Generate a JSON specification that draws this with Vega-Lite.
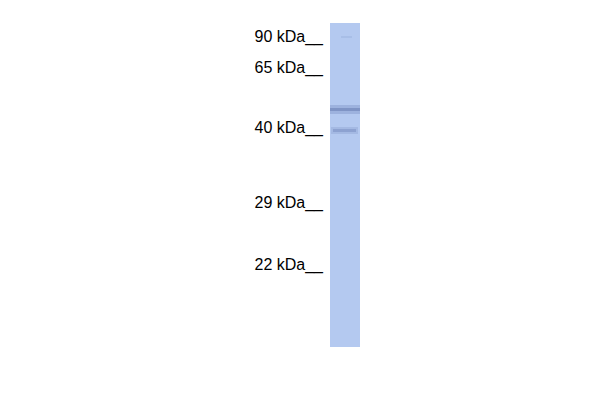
{
  "$schema": "https://vega.github.io/schema/vega-lite/v6.json",
  "width": 600,
  "height": 400,
  "autosize": {"type": "fit", "contains": "padding"},
  "padding": 0,
  "background": "white",
  "view": {"stroke": null},
  "datasets": {
    "lane": [{"x": 330, "x2": 360, "top": 23, "bottom": 347}],
    "bands": [
      {"band": "45 kDa halo", "x": 330, "x2": 360, "top": 105, "bottom": 114, "intensity": 0.14},
      {"band": "45 kDa", "x": 330, "x2": 360, "top": 108, "bottom": 111, "intensity": 0.33},
      {"band": "41 kDa halo", "x": 331, "x2": 358, "top": 127, "bottom": 134, "intensity": 0.1},
      {"band": "41 kDa", "x": 333, "x2": 356, "top": 129, "bottom": 132, "intensity": 0.24},
      {"band": "88 kDa", "x": 341, "x2": 352, "top": 36, "bottom": 38, "intensity": 0.07}
    ],
    "markers": [
      {"label": "90 kDa__", "x": 323, "y": 37},
      {"label": "65 kDa__", "x": 323, "y": 68},
      {"label": "40 kDa__", "x": 323, "y": 128},
      {"label": "29 kDa__", "x": 323, "y": 203},
      {"label": "22 kDa__", "x": 323, "y": 265}
    ]
  },
  "layer": [
    {
      "data": {"name": "lane"},
      "mark": {"type": "rect", "color": "#b4c9f0"},
      "encoding": {
        "x": {"field": "x", "type": "quantitative", "scale": {"domain": [0, 600]}, "axis": null},
        "x2": {"field": "x2"},
        "y": {"field": "top", "type": "quantitative", "scale": {"domain": [0, 400], "reverse": true}, "axis": null},
        "y2": {"field": "bottom"}
      }
    },
    {
      "data": {"name": "bands"},
      "mark": {"type": "rect", "opacity": 1},
      "encoding": {
        "x": {"field": "x", "type": "quantitative"},
        "x2": {"field": "x2"},
        "y": {"field": "top", "type": "quantitative"},
        "y2": {"field": "bottom"},
        "color": {"field": "intensity", "type": "quantitative", "scale": {"domain": [0, 1], "range": ["#b4c9f0", "#1c3270"]}, "legend": null}
      }
    },
    {
      "data": {"name": "markers"},
      "mark": {"type": "text", "align": "right", "baseline": "middle", "font": "Liberation Sans", "fontSize": 16, "color": "black"},
      "encoding": {
        "x": {"field": "x", "type": "quantitative"},
        "y": {"field": "y", "type": "quantitative"},
        "text": {"field": "label"}
      }
    }
  ]
}
